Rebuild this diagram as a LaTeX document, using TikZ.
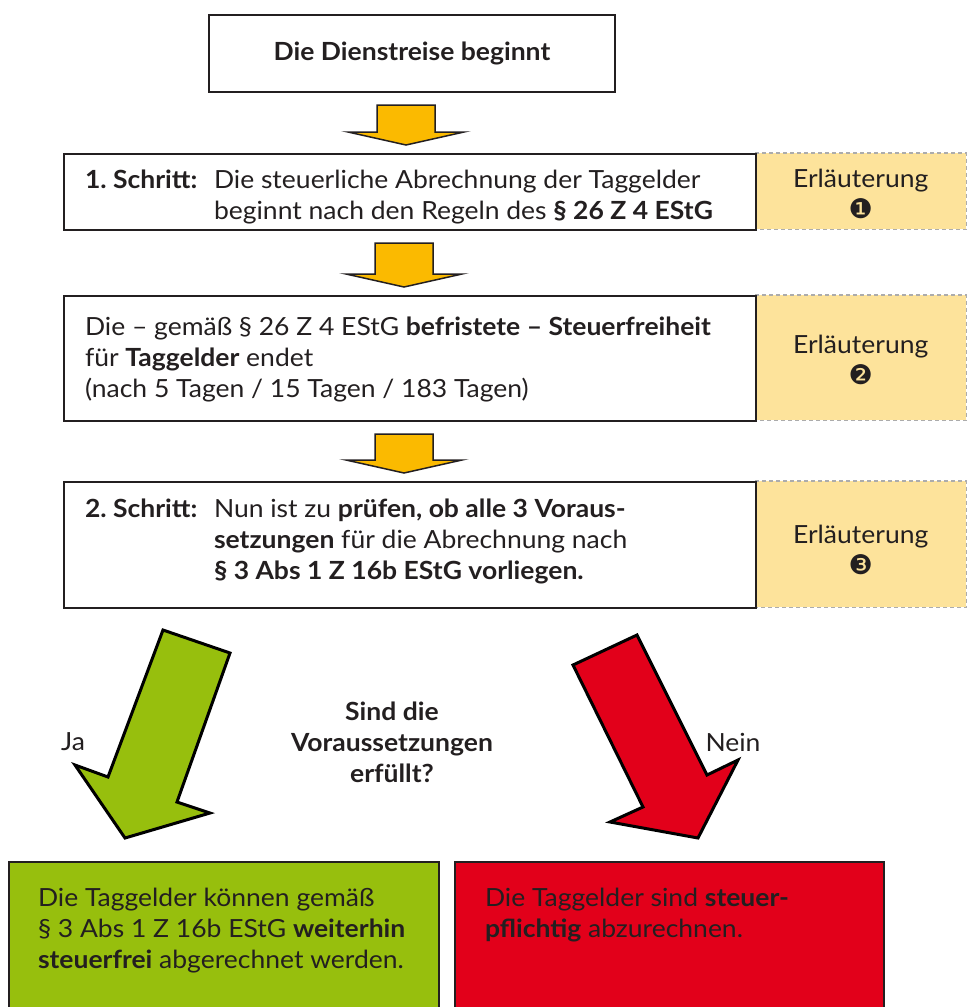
\documentclass[tikz,border=0pt]{standalone}
\usepackage{fontspec}
\setmainfont{Lato}[FakeStretch=1.06]
\newfontfamily\symfont{DejaVu Sans}
\usetikzlibrary{calc,positioning}

\definecolor{arrowyellow}{HTML}{FBBA00}
\definecolor{notefill}{HTML}{FDE39B}
\definecolor{jagreen}{HTML}{97BF0D}
\definecolor{neinred}{HTML}{E2001A}
\definecolor{inkgray}{HTML}{231F20}

\newcommand{\boxfont}{\fontsize{25}{31}\selectfont}
\newcommand{\notenum}[1]{{\symfont\fontsize{27}{31}\selectfont #1}}
% left aligned lines, #1 = extra space above
\newcommand{\steplines}[3]{\makebox[650pt][l]{\begin{tabular}{@{}#2@{}}\noalign{\vskip #1}#3\end{tabular}}}
\newcommand{\notelines}[2]{\begin{tabular}{@{}c@{}}\noalign{\vskip #1}Erläuterung\\\notenum{#2}\end{tabular}}

% block arrow from the bottom of #1 to the top of #2
\newcommand{\yarrow}[2]{%
  \draw[yarrow] ($(#1.south)+(-35,12)$) -- ($(#1.south)+(23,12)$)
     -- ($(#1.south |- #2.north)+(23,-21)$) -- ($(#1.south |- #2.north)+(52,-21)$)
     -- ($(#1.south |- #2.north)+(-6,-8)$) -- ($(#1.south |- #2.north)+(-64,-21)$)
     -- ($(#1.south |- #2.north)+(-35,-21)$) -- cycle;}

\tikzset{
  stepbox/.style={draw=inkgray, line width=2pt, fill=white, text=inkgray,
    font=\boxfont, inner sep=0pt, anchor=north west},
  notebox/.style={fill=notefill, text=inkgray, font=\boxfont,
    inner sep=0pt, anchor=north west, minimum width=211pt},
  notedash/.style={draw=gray!65, line width=1.5pt, dash pattern=on 4pt off 3pt},
  yarrow/.style={draw=inkgray, fill=arrowyellow, line width=1.5pt},
  bigarrow/.style={draw=black, line width=3pt},
  endbox/.style={draw=inkgray, line width=2pt, text=inkgray, font=\boxfont,
    anchor=north west, inner xsep=29pt, inner ysep=26pt},
  answertext/.style={text=inkgray, font=\boxfont}
}

\begin{document}
\begin{tikzpicture}[x=1pt,y=-1pt]
\useasboundingbox (0,0) rectangle (968,1007);

% notes on the right
\node[notebox, minimum height=76pt] (note1) at (755,153) {\notelines{11pt}{❶}};
\node[notebox, minimum height=125pt] (note2) at (755,295) {\notelines{11pt}{❷}};
\node[notebox, minimum height=126pt] (note3) at (755,481) {\notelines{17pt}{❸}};
\foreach \n in {note1,note2,note3}
  \draw[notedash] (\n.north west) -- (\n.north east) -- (\n.south east) -- (\n.south west);

% steps
\node[stepbox, minimum width=406pt, minimum height=77pt, font=\boxfont\bfseries] (start) at (208,14) {Die Dienstreise beginnt};
\node[stepbox, minimum width=692pt, minimum height=76pt] (step1) at (63,153)
  {\steplines{12pt}{p{129pt}@{}l}{%
   \textbf{1.\ Schritt:} & Die steuerliche Abrechnung der Taggelder\\
    & beginnt nach den Regeln des \textbf{§ 26 Z 4 EStG}}};
\node[stepbox, minimum width=692pt, minimum height=125pt] (ende) at (63,295)
  {\steplines{4pt}{l}{%
   Die – gemäß § 26 Z 4 EStG \textbf{befristete – Steuerfreiheit}\\
   für \textbf{Taggelder} endet\\
   (nach 5 Tagen / 15 Tagen / 183 Tagen)}};
\node[stepbox, minimum width=692pt, minimum height=126pt] (step2) at (63,481)
  {\steplines{-6pt}{p{129pt}@{}l}{%
   \textbf{2.\ Schritt:} & Nun ist zu \textbf{prüfen, ob alle 3 Voraus-}\\
    & \textbf{setzungen} für die Abrechnung nach\\
    & \textbf{§ 3 Abs 1 Z 16b EStG vorliegen.}}};

\yarrow{start}{step1}
\yarrow{step1}{ende}
\yarrow{ende}{step2}

% decision
\node[answertext, font=\boxfont\bfseries, align=center] (frage) at (392,742) {Sind die\\Voraussetzungen\\erfüllt?};
\node[answertext] (jalabel) at (73,742) {Ja};
\node[answertext] (neinlabel) at (733,742) {Nein};

\draw[bigarrow, fill=jagreen] (163,630) -- (230,653) -- (177,802) -- (210,813)
  -- (125,838) -- (75,765) -- (108,777) -- cycle;
\draw[bigarrow, fill=neinred] (573,665) -- (637,635) -- (707,775) -- (738,760)
  -- (698,838) -- (610,822) -- (643,807) -- cycle;

% results
\node[endbox, fill=jagreen, minimum width=430pt, minimum height=152pt] (jabox) at (8,861)
  {\parbox[t][100pt][t]{372pt}{\raggedright
   Die Taggelder können gemäß\\
   § 3 Abs 1 Z 16b EStG \textbf{weiterhin}\\
   \textbf{steuerfrei} abgerechnet werden.}};
\node[endbox, fill=neinred, minimum width=429pt, minimum height=152pt, inner xsep=30pt] (neinbox) at (454,861)
  {\parbox[t][100pt][t]{369pt}{\raggedright
   Die Taggelder sind \textbf{steuer-}\\
   \textbf{pflichtig} abzurechnen.}};
\end{tikzpicture}
\end{document}
